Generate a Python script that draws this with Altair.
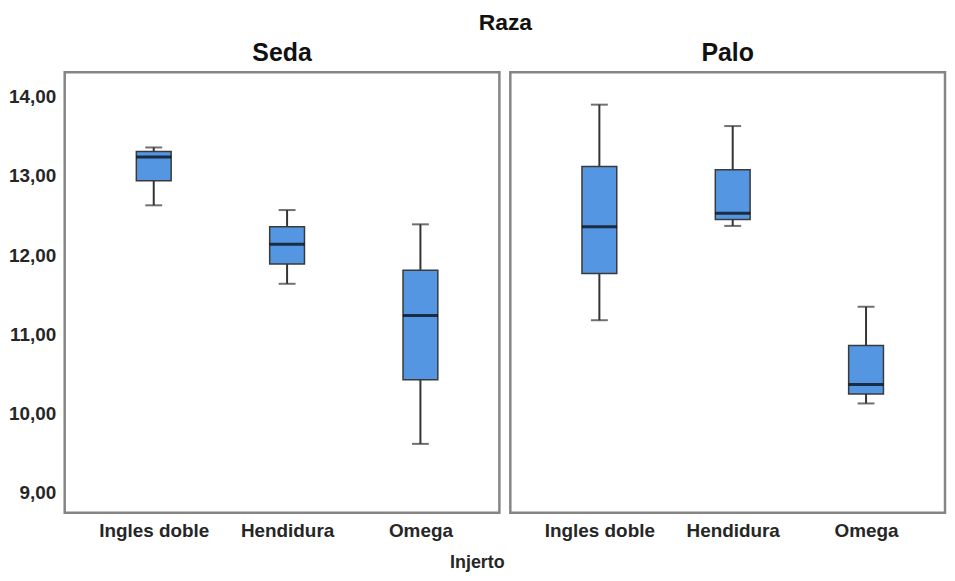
import altair as alt
import pandas as pd

raza = ["Seda", "Seda", "Seda", "Palo", "Palo", "Palo"]
injerto = ["Ingles doble", "Hendidura", "Omega", "Ingles doble", "Hendidura", "Omega"]
lows = [12.63, 11.64, 9.62, 11.18, 12.37, 10.13]
q1s = [12.94, 11.89, 10.43, 11.77, 12.45, 10.25]
medians = [13.24, 12.14, 11.24, 12.36, 12.53, 10.37]
q3s = [13.31, 12.36, 11.81, 13.12, 13.08, 10.86]
highs = [13.36, 12.57, 12.39, 13.90, 13.63, 11.35]

cats = ["Ingles doble", "Hendidura", "Omega"]
razas = ["Seda", "Palo"]
yticks = [9, 10, 11, 12, 13, 14]

df = pd.DataFrame({
    "Raza": raza, "Injerto": injerto, "low": lows, "q1": q1s,
    "median": medians, "q3": q3s, "high": highs,
})

FONT = "Liberation Sans"
ydom = [8.75, 14.31]

x = alt.X("Injerto:N", sort=cats, title=None,
          scale=alt.Scale(type="point", padding=0.63, align=0.53),
          axis=alt.Axis(labelAngle=0, domain=False, ticks=False, labelPadding=7,
                        labelFontSize=19, labelFont=FONT, labelFontWeight="bold",
                        labelColor="#262626"))
yscale = alt.Scale(domain=ydom, nice=False, zero=False)
yaxis = alt.Axis(values=yticks, domain=False, ticks=False, grid=False,
                 labelExpr="replace(format(datum.value, '.2f'), '.', ',')",
                 labelFontSize=19, labelFont=FONT, labelFontWeight="bold",
                 labelColor="#262626", labelPadding=7)

base = alt.Chart(df)

whisk_lo = base.mark_rule(color="#333", strokeWidth=2).encode(
    x=x, y=alt.Y("low:Q", scale=yscale, axis=yaxis, title=None), y2="q1:Q")
whisk_hi = base.mark_rule(color="#333", strokeWidth=2).encode(
    x=x, y=alt.Y("q3:Q"), y2="high:Q")
cap_lo = base.mark_tick(color="#333", size=17, thickness=2, orient="horizontal").encode(
    x=x, y=alt.Y("low:Q"))
cap_hi = base.mark_tick(color="#333", size=17, thickness=2, orient="horizontal").encode(
    x=x, y=alt.Y("high:Q"))
box = base.mark_bar(size=35, color="#5596E2", stroke="#3a3a3a", strokeWidth=1.5).encode(
    x=x, y=alt.Y("q1:Q"), y2="q3:Q")
med = base.mark_tick(color="#000", size=35, thickness=3, orient="horizontal").encode(
    x=x, y=alt.Y("median:Q"))

layer = alt.layer(whisk_lo, whisk_hi, box, cap_lo, cap_hi, med).properties(
    width=437, height=443)

chart = layer.facet(
    column=alt.Column("Raza:N", sort=razas,
                      header=alt.Header(title="Raza", titleFontSize=23, titleFont=FONT,
                                        titleFontWeight="bold", titleColor="#111",
                                        titlePadding=-4,
                                        labelFontSize=25, labelFont=FONT,
                                        labelFontWeight="bold", labelColor="#111",
                                        labelPadding=4)),
    spacing=7,
    title=alt.TitleParams("Injerto", orient="bottom", anchor="middle", fontSize=18,
                          font=FONT, fontWeight="bold", color="#262626", offset=13),
).properties(
    background="white",
    padding={"left": 0, "top": 3, "right": 0, "bottom": 0},
).configure_view(stroke="#858585", strokeWidth=2.5)

chart.save("out.html", embed_options={"renderer": "svg", "actions": False})
